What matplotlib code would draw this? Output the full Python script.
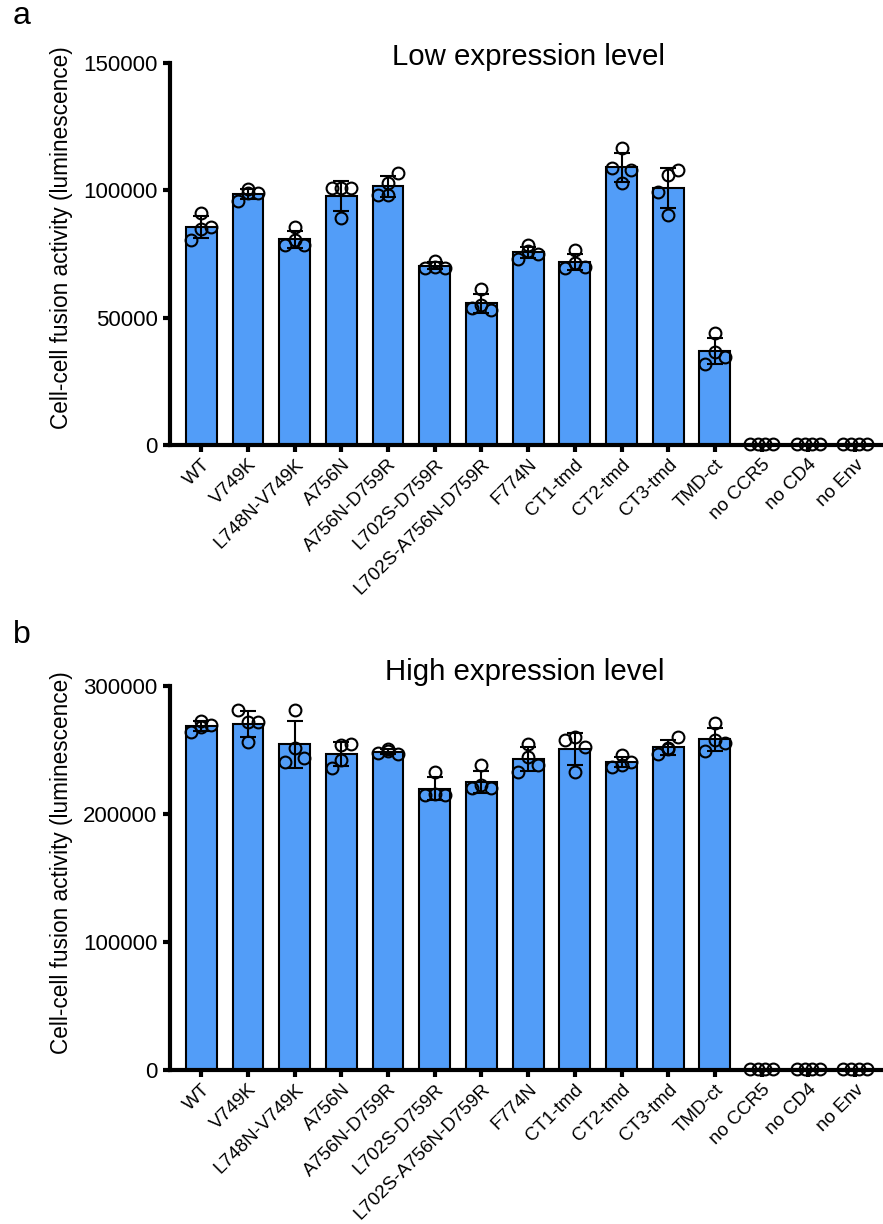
import numpy as np
import matplotlib.pyplot as plt

plt.rcParams['font.family'] = ['Liberation Sans', 'DejaVu Sans']

groups = ["WT", "V749K", "L748N-V749K", "A756N", "A756N-D759R", "L702S-D759R",
          "L702S-A756N-D759R", "F774N", "CT1-tmd", "CT2-tmd", "CT3-tmd", "TMD-ct",
          "no CCR5", "no CD4", "no Env"]

# replicate luminescence values (x1000)
low_reps = [
    [80.5, 91.0, 85.0, 85.5],
    [96.0, 100.5, 99.0, 99.0],
    [78.5, 85.7, 80.5, 78.5],
    [100.8, 100.8, 89.0, 100.8],
    [98.2, 103.0, 98.2, 106.7],
    [69.5, 72.4, 70.0, 69.5],
    [53.6, 61.2, 55.0, 53.0],
    [73.0, 78.5, 76.0, 75.0],
    [69.4, 76.5, 71.3, 70.0],
    [108.9, 116.5, 102.7, 108.0],
    [99.5, 106.0, 90.5, 108.0],
    [32.0, 43.9, 36.6, 34.7],
    [0.3, 0.4, 0.2, 0.3],
    [0.2, 0.3, 0.3, 0.2],
    [0.2, 0.2, 0.3, 0.2],
]
high_reps = [
    [264.0, 273.0, 268.0, 269.5],
    [281.0, 272.0, 256.5, 272.0],
    [241.0, 281.0, 251.5, 243.7],
    [235.7, 254.0, 242.0, 255.0],
    [248.0, 251.0, 249.0, 247.0],
    [215.0, 233.0, 216.0, 215.0],
    [220.0, 238.0, 222.7, 220.0],
    [233.0, 255.0, 244.8, 238.3],
    [257.8, 260.4, 233.0, 252.0],
    [237.0, 246.0, 238.0, 240.8],
    [246.6, 251.3, 250.5, 260.4],
    [249.5, 270.8, 257.8, 255.7],
    [0.5, 0.8, 0.6, 0.4],
    [0.6, 0.5, 0.7, 0.5],
    [0.4, 0.6, 0.5, 0.4],
]

panels = [
    ("a", "Low expression level", low_reps, [0, 50000, 100000, 150000]),
    ("b", "High expression level", high_reps, [0, 100000, 200000, 300000]),
]

W, H = 883, 1224
bar_color = "#529DF8"
offs_main = [-0.21, 0.0, 0.0, 0.21]
offs_ctrl = [-0.25, -0.08, 0.08, 0.25]

fig = plt.figure(figsize=(W / 100, H / 100), dpi=100, facecolor="white")
# axes boxes in pixels: left, top, right, bottom
boxes = [(170, 63, 883, 445), (170, 686, 883, 1070)]
letter_y = [24, 643]
title_pos = [(528, 65), (525, 680)]
ylab_y = [0.542, 0.539]

for k, ((letter, title, reps, yt), (l, t, r, b)) in enumerate(zip(panels, boxes)):
    ax = fig.add_axes([l / W, 1 - b / H, (r - l) / W, (b - t) / H])
    vals = np.array(reps) * 1000
    x = np.arange(len(groups))
    means = vals.mean(axis=1)
    sds = vals.std(axis=1, ddof=1)
    ax.bar(x, means, width=0.66, color=bar_color, edgecolor="black", linewidth=1.5, zorder=2)
    ax.errorbar(x, means, yerr=sds, fmt="none", ecolor="black", elinewidth=1.5,
                capsize=5.5, capthick=1.5, zorder=3)
    for i in range(len(groups)):
        offs = offs_ctrl if i >= 12 else offs_main
        ax.plot(x[i] + np.array(offs), vals[i], "o", mfc="none", mec="black",
                mew=1.5, ms=8.5, zorder=4, clip_on=False)
    ax.set_xlim(-0.67, 14.6)
    ax.set_ylim(0, yt[-1])
    ax.set_yticks(yt)
    ax.set_yticklabels([str(v) for v in yt], fontsize=16)
    ax.set_xticks(x)
    ax.set_xticklabels(groups, rotation=45, ha="right", rotation_mode="anchor", fontsize=13.6)
    for s in ["top", "right"]:
        ax.spines[s].set_visible(False)
    for s in ["left", "bottom"]:
        ax.spines[s].set_linewidth(3)
    ax.tick_params(axis="y", width=3, length=5, pad=4)
    ax.tick_params(axis="x", width=3, length=5, pad=3)
    ax.set_ylabel("Cell-cell fusion activity (luminescence)", fontsize=16.3)
    ax.yaxis.set_label_coords((73 - l) / (r - l), ylab_y[k])
    tx, ty = title_pos[k]
    fig.text(tx / W, 1 - ty / H, title, fontsize=21.2, ha="center", va="baseline")
    fig.text(13 / W, 1 - letter_y[k] / H, letter, fontsize=23, ha="left", va="baseline")

fig.savefig("out.png", dpi=100, facecolor="white")
